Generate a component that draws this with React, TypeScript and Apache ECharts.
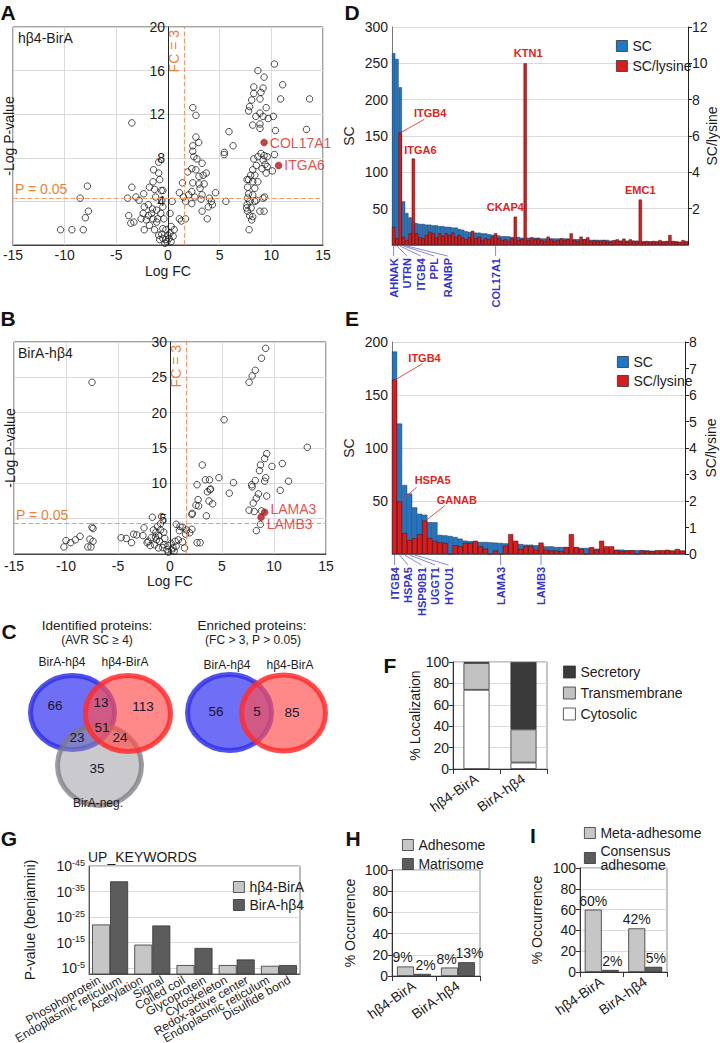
import React, { useEffect, useRef } from 'react';
import * as echarts from 'echarts';

const FONT = '"Liberation Sans", Arial, Helvetica, sans-serif';
const INK = '#1c1c1c';
const ORANGE = '#ea8234';
const ORANGE_LINE = '#f39a6a';
const HIT_RED = '#e2231a';
const DOT_RED = '#b0161a';
const BAR_BLUE = '#1f77c9';
const BAR_RED = '#d91c1c';
const LABEL_BLUE = '#3434cc';
const LIGHT_GRAY = '#c6c6c6';
const DARK_GRAY = '#5c5c5c';
const GRID = '#dadada';

// ---------- Panel A: volcano hβ4-BirA  [log FC, -log P]
const volcanoA: number[][] = [
  [-10.4, 1.4], [-9.3, 1.4], [-8.2, 1.4], [-8.5, 4.3], [-7.8, 5.4], [-7.7, 3.1], [-8.0, 2.5],
  [-3.5, 11.2], [-3.5, 5.3], [-3.9, 4.3], [-3.1, 4.4], [-2.8, 4.1], [-3.8, 2.7], [-3.6, 2.0], [-3.3, 2.1],
  [-2.35, 4.7], [-1.8, 5.3], [-1.3, 5.1], [-0.9, 7.6], [-0.9, 6.6], [-1.4, 6.9], [-0.8, 6.0], [-1.45, 5.8],
  [-0.65, 5.0], [-0.5, 5.0], [-0.6, 4.1], [-2.3, 3.5], [-1.9, 3.7], [-2.4, 2.9], [-2.6, 2.4], [-2.1, 2.3],
  [-1.6, 2.9], [-1.1, 3.2], [-0.7, 2.9], [-0.5, 3.5], [-0.4, 2.4], [-1.8, 1.8], [-1.3, 1.4], [-2.3, 1.4],
  [-0.9, 0.9], [-0.5, 0.6], [-0.2, 0.5], [0.2, 1.1], [0.5, 0.8], [0.3, 1.7], [-0.2, 1.4], [-0.8, 0.5],
  [-0.3, 0.15], [0.3, 0.3], [0.6, 1.4], [0.2, 2.9], [0.4, 4.0], [-1.1, 2.1], [-1.45, 2.4], [-1.9, 2.7],
  [-1.0, 2.4], [-0.5, 1.5], [-0.1, 0.3], [0.1, 0.6], [-0.6, 1.0], [-1.5, 3.3], [-1.2, 4.4], [0.0, 0.9],
  [1.1, 4.8], [1.4, 5.7], [1.3, 2.2], [1.1, 2.4], [1.7, 2.4], [1.5, 4.4], [1.7, 4.0], [1.9, 6.7],
  [2.4, 12.6], [2.7, 11.9], [2.7, 9.9], [2.97, 9.4], [2.4, 9.1], [2.4, 8.6], [2.5, 8.1], [2.8, 7.9],
  [3.3, 7.5], [2.3, 7.0], [2.7, 6.9], [3.0, 6.3], [3.4, 6.4], [3.7, 6.6], [2.4, 5.7], [3.0, 5.6],
  [3.5, 5.6], [3.1, 5.2], [2.3, 4.9], [2.0, 4.6], [2.6, 4.4], [3.2, 4.2], [3.3, 4.6], [4.0, 4.3],
  [4.2, 4.0], [4.6, 4.8], [3.9, 3.5], [3.3, 3.1], [4.3, 3.7], [3.8, 2.4], [2.3, 3.8],
  [5.45, 8.5], [5.45, 8.3], [5.9, 10.4], [6.3, 9.1], [5.6, 4.0],
  [10.3, 16.6], [8.7, 16.0], [11.1, 14.7], [9.3, 15.4], [8.3, 14.5], [9.2, 14.4], [8.3, 13.9], [9.0, 14.0],
  [8.1, 13.3], [8.9, 13.4], [9.5, 12.6], [10.9, 13.4], [13.7, 13.4], [7.9, 12.7], [7.8, 12.3], [8.5, 11.8],
  [8.9, 12.1], [9.2, 11.8], [9.7, 11.6], [10.2, 11.8], [8.2, 11.0], [8.9, 11.1], [8.9, 10.7], [10.4, 10.5],
  [13.4, 10.6], [10.3, 8.3], [8.3, 7.9], [8.7, 8.1], [9.0, 8.4], [9.3, 8.2], [9.6, 8.1], [9.2, 7.8],
  [9.4, 7.4], [9.6, 7.2], [9.5, 6.6], [9.1, 7.0], [10.1, 6.8], [8.55, 7.3], [8.2, 6.9], [8.0, 6.4],
  [8.4, 6.4], [7.8, 6.0], [7.65, 6.0], [8.2, 5.8], [8.7, 5.8], [7.7, 5.3], [8.4, 5.2], [7.8, 4.7],
  [8.2, 4.6], [7.7, 4.3], [7.9, 4.0], [8.55, 4.1], [9.35, 4.4], [9.2, 4.3], [7.65, 3.7], [8.05, 3.4],
  [7.7, 3.1], [7.9, 2.7], [8.2, 2.6], [8.1, 2.3], [8.9, 3.1], [9.3, 3.1], [7.85, 1.4], [7.6, 3.4], [8.4, 4.0],
];
const hitNamesA = ['COL17A1', 'ITGA6'];
const hitValuesA: number[][] = [[9.3, 9.4], [10.7, 7.3]];

// ---------- Panel B: volcano BirA-hβ4
const volcanoB: number[][] = [
  [-7.5, 24.3], [-10.2, 1.0], [-10.0, 1.9], [-9.55, 1.6], [-9.1, 2.0], [-8.65, 2.5], [-7.9, 1.0], [-7.6, 1.0],
  [-7.7, 2.1], [-7.4, 1.8], [-7.5, 3.8], [-7.4, 3.6], [-4.7, 2.3], [-4.2, 2.2], [-3.7, 1.6], [-3.5, 2.8],
  [-3.2, 2.7], [-2.6, 2.6], [-2.5, 3.7], [-1.7, 5.2], [-0.8, 5.3], [-2.1, 1.8], [-2.2, 1.6], [-1.8, 2.3],
  [-1.6, 3.4], [-1.35, 3.1], [-1.1, 2.6], [-0.9, 3.4], [-0.6, 3.1], [-1.3, 2.0], [-1.0, 1.8], [-1.5, 1.3],
  [-1.1, 0.85], [-0.6, 1.3], [-0.5, 2.2], [-0.3, 0.6], [-0.15, 0.25], [0.15, 0.5], [0.3, 0.85], [0.6, 1.1],
  [0.5, 1.8], [0.8, 2.0], [1.2, 1.7], [1.4, 0.85], [-0.9, 4.3], [-1.2, 3.9], [-0.7, 0.9], [-0.2, 1.2],
  [0.1, 1.5], [-1.9, 1.2], [-1.4, 2.4], [0.4, 0.4], [0.6, 4.2], [0.96, 3.9], [1.2, 3.8], [0.9, 3.3],
  [1.6, 3.4], [1.5, 2.8], [2.1, 3.5], [1.9, 3.0], [2.1, 5.6], [2.15, 5.75], [2.6, 9.8], [3.1, 12.6],
  [2.7, 7.7], [2.5, 6.9], [2.75, 6.8], [2.6, 1.6], [2.9, 1.6], [3.4, 10.5], [3.8, 10.5], [3.6, 8.8],
  [3.9, 9.2], [3.85, 9.1], [3.75, 7.5], [4.1, 7.1], [3.5, 5.4], [4.7, 10.8], [5.2, 19.0], [5.7, 8.6],
  [6.1, 10.1], [7.6, 24.3], [7.9, 25.2], [8.2, 26.0], [8.8, 27.7], [9.2, 29.1], [9.3, 14.2], [9.1, 13.5],
  [8.7, 12.6], [8.6, 11.8], [9.8, 12.4], [10.8, 12.8], [13.2, 15.1], [11.4, 10.3], [10.6, 9.0], [9.2, 10.8],
  [9.1, 10.3], [8.2, 10.4], [7.85, 9.8], [7.9, 9.5], [8.5, 8.5], [8.3, 7.9], [8.0, 7.2], [9.3, 8.2],
  [7.6, 6.2], [8.1, 6.0], [8.8, 6.1], [8.3, 3.3], [8.7, 4.2],
];
const hitNamesB = ['LAMA3', 'LAMB3'];
const hitValuesB: number[][] = [[9.1, 5.9], [8.75, 5.2]];

const FC_THRESHOLD = 1.585; // log2(3)
const P_THRESHOLD = 4.3;

// ---------- Panel D: spectral counts hβ4-BirA
const dSC = [
  264, 256, 217, 60, 44, 38, 32,
  30, 29, 29, 28, 28, 27,
  27, 26, 26, 25, 25, 24, 24,
  22, 21, 19, 18, 18, 17,
  17, 16, 16, 15, 14, 14,
  13, 12, 12, 12, 11, 11,
  11, 10, 10, 10, 10, 10, 10, 9, 9,
  9, 9, 9, 9, 9, 9, 9, 8, 8,
  8, 8, 8, 8, 7, 7, 7, 7,
  7, 7, 6, 6, 6, 6, 6, 6, 6, 6, 6, 6,
  5, 5, 5, 5, 5, 5, 5, 5, 5, 5, 5, 4, 4, 4,
];
const dLys = [
  1.0, 0.37, 6.2, 0.45, 0.27, 0.64, 4.76,
  0.64, 0.42, 0.37, 0.55, 0.73, 0.64,
  0.42, 0.64, 0.5, 0.64, 0.55, 0.68, 0.46,
  0.55, 0.42, 0.31, 0.42, 0.78, 0.37,
  0.46, 0.27, 0.37, 0.31, 0.46, 0.64,
  0.37, 0.27, 0.31, 0.22, 0.37, 1.56,
  0.27, 0.31, 10.0, 0.27, 0.42, 0.31, 0.37, 0.27, 0.22,
  0.46, 0.31, 0.22, 0.27, 0.37, 0.27, 0.31, 0.64, 0.27,
  0.22, 0.46, 0.31, 0.42, 0.22, 0.27, 0.22, 0.22,
  0.27, 0.18, 0.18, 0.27, 0.31, 0.22, 0.35, 0.18, 0.31, 0.22, 0.18, 2.5,
  0.18, 0.22, 0.18, 0.22, 0.18, 0.27, 0.18, 0.22, 0.55, 0.22, 0.18, 0.18, 0.27, 0.22,
];
const dCats = dSC.map((_, i) => 'D' + (i + 1));
const dAxisNames = ['AHNAK', 'UTRN', 'ITGB4', 'PPL', 'RANBP', 'COL17A1'];
const dAxisIdx = [0, 1, 2, 3, 4, 31];
const dHitNames = ['ITGB4', 'ITGA6', 'CKAP4', 'KTN1', 'EMC1'];
const dHitIdx = [2, 6, 37, 40, 75];
const dHitLayout = [
  { dx: 30, dy: -19, lx: -6, ly: 6 },
  { dx: 7, dy: -9 },
  { dx: -10, dy: -10 },
  { dx: 3, dy: -10 },
  { dx: 0, dy: -10 },
];

// ---------- Panel E: spectral counts BirA-hβ4
const eSC = [
  191, 123, 65, 57, 44, 38, 37, 30, 30,
  18, 17.6, 17, 16, 14.5, 12.6, 12, 12, 11.3, 11.3,
  11, 10.7, 10.4, 10, 10, 10, 9.4, 8.8, 8.8, 8.2,
  8.2, 7.2, 7.2, 6.6, 6.6, 6.6, 6.3, 6.3, 5.7, 5.7,
  5.7, 5, 5, 5, 4.1, 4.1, 4.1, 3.5, 3.5, 3.5,
  3.5, 3.5, 3.1, 3.1, 3.1, 3.1, 3.1, 3.1, 3.1,
];
const eLys = [
  6.58, 1.99, 0.79, 0.53, 0.6, 0.75, 1.26, 0.6, 0.5,
  0.44, 0.42, 0, 0.33, 0.29, 0.42, 0.42, 0.5, 0.29, 0.2,
  0, 0.13, 0, 0.31, 0.75, 0.5, 0.19, 0.29, 0.29, 0.16,
  0.43, 0.16, 0.13, 0.13, 0.1, 0.25, 0.75, 0.26, 0.19, 0,
  0.26, 0.14, 0.5, 0.29, 0.29, 0.14, 0.1, 0.13, 0.14, 0,
  0.14, 0.1, 0.1, 0.14, 0.14, 0.16, 0.13, 0.19, 0.13,
];
const eCats = eSC.map((_, i) => 'E' + (i + 1));
const eAxisNames = ['ITGB4', 'HSPA5', 'HSP90B1', 'UGGT1', 'HYOU1', 'LAMA3', 'LAMB3'];
const eAxisIdx = [0, 1, 2, 3, 4, 21, 29];
const eHitNames = ['ITGB4', 'HSPA5', 'GANAB'];
const eHitIdx = [0, 1, 6];
const eHitLayout = [
  { dx: 30, dy: -22, lx: -2, ly: 6 },
  { dx: 33, dy: -21, lx: -16, ly: 7 },
  { dx: 32, dy: -21, lx: -12, ly: 6 },
];

// ---------- Panel C: Venn counts
const vennIdentified = { blueOnly: 66, blueRed: 13, redOnly: 113, all: 51, blueGray: 23, redGray: 24, grayOnly: 35 };
const vennEnriched = { blueOnly: 56, both: 5, redOnly: 85 };

// ---------- Panel F
const fCategories = ['hβ4-BirA', 'BirA-hβ4'];
const fCytosolic = [74, 6];
const fTransmembrane = [25, 31];
const fSecretory = [1, 63];

// ---------- Panel G (-log10 P, benjamini)
const gKeywords = ['Phosphoprotein', 'Endoplasmic reticulum', 'Acetylation', 'Signal', 'Coiled coil',
  'Glycoprotein', 'Cytoskeleton', 'Redox-active center', 'Endoplasmic reticulum', 'Disulfide bond'];
const gPairs = ['p1', 'p2', 'p3', 'p4', 'p5'];
const gHb4BirA = [22.1, 14.2, 6.2, 6.2, 5.9];
const gBirAHb4 = [39, 21.7, 12.9, 8.4, 6.2];
const gTicks = [5, 15, 25, 35, 45];

// ---------- Panels H, I
const hiCategories = ['hβ4-BirA', 'BirA-hβ4'];
const hAdhesome = [9, 8];
const hMatrisome = [2, 13];
const iMeta = [60, 42];
const iConsensus = [2, 5];

const axisText = { color: INK, fontSize: 14, fontFamily: FONT };

function volcanoAxes(gridIndex: number, yMax: number, yInterval: number, yOffset: number, xLabelMargin: number, xNameGap: number) {
  const x = {
    gridIndex, type: 'value', min: -15, max: 15, interval: 5,
    axisLine: { show: true, onZero: false, lineStyle: { color: '#444' } },
    axisTick: { show: false },
    axisLabel: { ...axisText, margin: xLabelMargin },
    splitLine: { show: true, lineStyle: { color: GRID } },
    name: 'Log FC', nameLocation: 'middle', nameGap: xNameGap, nameMoveOverlap: false, nameTextStyle: axisText,
  };
  // the y axis is drawn through log FC = 0, i.e. the middle of the plot
  const y = {
    gridIndex, type: 'value', min: 0, max: yMax, interval: yInterval, position: 'left', offset: yOffset,
    axisLine: { show: true, onZero: false, lineStyle: { color: '#222' } },
    axisTick: { show: false },
    axisLabel: { ...axisText, margin: 3, showMinLabel: false },
    splitLine: { show: true, lineStyle: { color: GRID } },
    name: '-Log P-value', nameLocation: 'middle', nameGap: -yOffset - 3, nameRotate: 90, nameMoveOverlap: false,
    nameTextStyle: axisText,
  };
  return { x, y };
}

function volcanoSeries(xi: number, data: number[][], names: string[], vals: number[][], offsets: number[]) {
  return [
    {
      type: 'scatter', name: 'volcano' + xi, xAxisIndex: xi, yAxisIndex: xi, data,
      symbol: 'circle', symbolSize: 6.5,
      itemStyle: { color: 'rgba(255,255,255,0)', borderColor: '#222', borderWidth: 1 },
      markLine: {
        silent: true, symbol: ['none', 'none'], animation: false,
        lineStyle: { color: ORANGE_LINE, type: 'dashed', width: 1.2 },
        data: [
          { xAxis: FC_THRESHOLD, label: { formatter: 'FC = 3', position: 'insideEndTop', color: ORANGE, fontSize: 14, fontFamily: FONT, distance: 3 } },
          { yAxis: P_THRESHOLD, label: { formatter: 'P = 0.05', position: 'insideStartTop', color: ORANGE, fontSize: 14, fontFamily: FONT, distance: 2 } },
        ],
      },
    },
    {
      type: 'scatter', name: 'hits' + xi, xAxisIndex: xi, yAxisIndex: xi,
      data: names.map((n, i) => ({ name: n, value: vals[i], label: { offset: [0, offsets[i]] } })),
      symbol: 'circle', symbolSize: 7, z: 5,
      itemStyle: { color: DOT_RED, borderColor: DOT_RED, borderWidth: 0.5 },
      label: { show: true, position: 'right', formatter: '{b}', color: HIT_RED, fontSize: 14, fontFamily: FONT, distance: 2 },
    },
  ];
}

function countAxes(gridIndex: number, cats: string[], leftMax: number, rightMax: number, rightInterval: number, showRightZero: boolean, rightNameGap: number) {
  const x = {
    gridIndex, type: 'category', data: cats, position: 'bottom',
    axisLine: { show: true, lineStyle: { color: '#777' } },
    axisTick: { show: false }, axisLabel: { show: false },
  };
  const yl = {
    gridIndex, type: 'value', min: 0, max: leftMax, interval: 50, position: 'left',
    axisLine: { show: true, lineStyle: { color: '#777' } },
    axisTick: { show: false },
    axisLabel: { ...axisText, margin: 4, showMinLabel: false },
    splitLine: { show: true, lineStyle: { color: GRID } },
    name: 'SC', nameLocation: 'middle', nameGap: 36, nameRotate: 90, nameMoveOverlap: false, nameTextStyle: axisText,
  };
  const yr = {
    gridIndex, type: 'value', min: 0, max: rightMax, interval: rightInterval, position: 'right',
    axisLine: { show: true, lineStyle: { color: '#222' } },
    axisTick: { show: true, length: 4, lineStyle: { color: '#222' } },
    axisLabel: { ...axisText, margin: 4, showMinLabel: showRightZero },
    splitLine: { show: false },
    name: 'SC/lysine', nameLocation: 'middle', nameGap: rightNameGap, nameRotate: 90, nameMoveOverlap: false,
    nameTextStyle: axisText,
  };
  return [x, yl, yr];
}

function countSeries(xi: number, yl: number, yr: number, sc: number[], lys: number[]) {
  return [
    {
      type: 'bar', name: 'SC', xAxisIndex: xi, yAxisIndex: yl, data: sc,
      barCategoryGap: '0%', barGap: '-100%',
      itemStyle: { color: BAR_BLUE, borderColor: '#1d3148', borderWidth: 0.5 },
    },
    {
      type: 'bar', name: 'SC/lysine', xAxisIndex: xi, yAxisIndex: yr, data: lys,
      barCategoryGap: '0%', barGap: '-100%',
      itemStyle: { color: BAR_RED, borderColor: '#4a0c0c', borderWidth: 0.5 },
    },
  ];
}

function percentAxes(gridIndex: number, cats: string[], name: string, nameGap: number) {
  const x = {
    gridIndex, type: 'category', data: cats, position: 'bottom',
    axisLine: { show: true, lineStyle: { color: '#333' } },
    axisTick: { show: true, length: 5, lineStyle: { color: '#333' } },
    axisLabel: { ...axisText, rotate: 35, margin: 8, interval: 0 },
  };
  const y = {
    gridIndex, type: 'value', min: 0, max: 100, interval: 20,
    axisLine: { show: true, lineStyle: { color: '#333' } },
    axisTick: { show: true, length: 4, lineStyle: { color: '#333' } },
    axisLabel: { ...axisText, margin: 4 },
    splitLine: { show: true, lineStyle: { color: GRID } },
    name, nameLocation: 'middle', nameGap, nameRotate: 90, nameMoveOverlap: false, nameTextStyle: axisText,
  };
  return [x, y];
}

function buildOption() {
  const fixed = { outerBoundsMode: 'none', containLabel: false };
  const grids = [
    { ...fixed, left: 13, top: 27, width: 310, height: 218, show: true, borderColor: '#444' },   // A
    { ...fixed, left: 14, top: 342, width: 312, height: 212, show: true, borderColor: '#444' },  // B
    { ...fixed, left: 392, top: 27, width: 296, height: 218 },                                   // D
    { ...fixed, left: 392, top: 342, width: 293, height: 212 },                                  // E
    { ...fixed, left: 453, top: 662, width: 94, height: 107, show: true, borderColor: '#888' },  // F
    { ...fixed, left: 89, top: 866, width: 211, height: 108, show: true, borderColor: '#777' },  // G
    { ...fixed, left: 392, top: 870, width: 88, height: 106, show: true, borderColor: '#888' },  // H
    { ...fixed, left: 580, top: 868, width: 87, height: 104, show: true, borderColor: '#888' },  // I
  ];

  const aAx = volcanoAxes(0, 20, 4, -155, 3, 19);
  const bAx = volcanoAxes(1, 30, 5, -156, 5, 20);
  const [dX, dYL, dYR] = countAxes(2, dCats, 300, 12, 2, false, 17);
  const [eX, eYL, eYR] = countAxes(3, eCats, 200, 8, 1, true, 19);
  const [fX, fY] = percentAxes(4, fCategories, '% Localization', 31);
  const [hX, hY] = percentAxes(6, hiCategories, '% Occurrence', 35);
  const [iX, iY] = percentAxes(7, hiCategories, '% Occurrence', 36);

  const gXPairs = {
    gridIndex: 5, type: 'category', data: gPairs, position: 'bottom',
    axisLine: { show: true, lineStyle: { color: '#555' } }, axisTick: { show: false }, axisLabel: { show: false },
  };
  const gXLabels = {
    gridIndex: 5, type: 'category', data: gKeywords.map((_, i) => String(i)), position: 'bottom',
    axisLine: { show: false }, axisTick: { show: false },
    axisLabel: {
      color: INK, fontSize: 12, fontFamily: FONT, rotate: 30, margin: 5, interval: 0, overflow: 'none',
      formatter: (_v: string, i: number) => gKeywords[i],
    },
  };
  const gY = {
    gridIndex: 5, type: 'value', min: 2.7, max: 45,
    axisLine: { show: true, lineStyle: { color: '#555' } },
    axisTick: { show: false, customValues: gTicks },
    axisLabel: {
      customValues: gTicks, margin: 4,
      formatter: (v: number) => `{b|10}{s|-${v}}`,
      rich: {
        b: { fontSize: 14, fontFamily: FONT, color: INK, lineHeight: 16 },
        s: { fontSize: 9, fontFamily: FONT, color: INK, verticalAlign: 'top', lineHeight: 10 },
      },
    },
    splitLine: { show: true, lineStyle: { color: GRID } },
    name: 'P-value (benjamini)', nameLocation: 'middle', nameGap: 52, nameRotate: 90, nameMoveOverlap: false,
    nameTextStyle: axisText,
  };

  const xAxis = [aAx.x, bAx.x, dX, eX, fX, gXPairs, gXLabels, hX, iX];
  const yAxis = [aAx.y, bAx.y, dYL, dYR, eYL, eYR, fY, gY, hY, iY];

  const grayBar = (name: string, xi: number, yi: number, data: number[], color: string, width: number, labelDx: number | null) => ({
    type: 'bar', name, xAxisIndex: xi, yAxisIndex: yi, data, barWidth: width, barGap: '0%',
    itemStyle: { color, borderColor: '#333', borderWidth: 0.8 },
    label: labelDx !== null ? { show: true, position: 'top', distance: 2, offset: [labelDx, 0], formatter: '{c}%', color: INK, fontSize: 14, fontFamily: FONT } : undefined,
  });

  const series: any[] = [
    ...volcanoSeries(0, volcanoA, hitNamesA, hitValuesA, [0, 0]),
    ...volcanoSeries(1, volcanoB, hitNamesB, hitValuesB, [-3, 7]),
    ...countSeries(2, 2, 3, dSC, dLys),
    ...countSeries(3, 4, 5, eSC, eLys),
    { type: 'bar', name: 'Cytosolic', stack: 'f', xAxisIndex: 4, yAxisIndex: 6, data: fCytosolic, barWidth: 26, itemStyle: { color: '#ffffff', borderColor: '#333', borderWidth: 0.8 } },
    { type: 'bar', name: 'Transmembrane', stack: 'f', xAxisIndex: 4, yAxisIndex: 6, data: fTransmembrane, barWidth: 26, itemStyle: { color: '#c2c2c2', borderColor: '#333', borderWidth: 0.8 } },
    { type: 'bar', name: 'Secretory', stack: 'f', xAxisIndex: 4, yAxisIndex: 6, data: fSecretory, barWidth: 26, itemStyle: { color: '#3a3a3a', borderColor: '#333', borderWidth: 0.8 } },
    grayBar('hβ4-BirA', 5, 7, gHb4BirA, LIGHT_GRAY, 18, null),
    grayBar('BirA-hβ4', 5, 7, gBirAHb4, DARK_GRAY, 18, null),
    grayBar('Adhesome', 7, 8, hAdhesome, LIGHT_GRAY, 17, -3),
    grayBar('Matrisome', 7, 8, hMatrisome, DARK_GRAY, 17, 3),
    grayBar('Meta-adhesome', 8, 9, iMeta, LIGHT_GRAY, 17, 0),
    grayBar('Consensus adhesome', 8, 9, iConsensus, DARK_GRAY, 17, 2),
  ];

  const legendBase = {
    orient: 'vertical', icon: 'rect', itemWidth: 11, itemHeight: 11, selectedMode: false,
    textStyle: { fontSize: 14, color: INK, fontFamily: FONT },
    itemStyle: { borderColor: '#333', borderWidth: 0.8 },
  };
  const legend = [
    { ...legendBase, data: ['SC', 'SC/lysine'], left: 611, top: 34, itemGap: 6 },
    { ...legendBase, data: ['SC', 'SC/lysine'], left: 612, top: 350, itemGap: 5 },
    { ...legendBase, data: ['Secretory', 'Transmembrane', 'Cytosolic'], left: 558, top: 660, itemWidth: 12, itemHeight: 12, itemGap: 7 },
    { ...legendBase, data: ['hβ4-BirA', 'BirA-hβ4'], left: 228, top: 875, itemGap: 4 },
    { ...legendBase, data: ['Adhesome', 'Matrisome'], left: 397, top: 833, itemGap: 5 },
    {
      ...legendBase, data: ['Meta-adhesome', 'Consensus adhesome'], left: 579, top: 821, itemGap: 4,
      formatter: (n: string) => (n === 'Consensus adhesome' ? 'Consensus\nadhesome' : n),
    },
  ];

  return {
    animation: false,
    backgroundColor: '#ffffff',
    textStyle: { fontFamily: FONT },
    grid: grids,
    xAxis, yAxis, series, legend,
  };
}

function buildGraphics(chart: any) {
  const els: any[] = [];
  const text = (x: number, y: number, t: string, o: any = {}) => els.push({
    type: 'text', x, y, rotation: o.rotation ?? 0, silent: true, z: 100,
    style: {
      text: t, fill: o.fill ?? INK, fontSize: o.size ?? 14, fontWeight: o.weight ?? 'normal',
      fontFamily: FONT, align: o.align ?? 'center', verticalAlign: o.valign ?? 'middle',
    },
  });
  const line = (x1: number, y1: number, x2: number, y2: number, stroke: string, w = 1) => els.push({
    type: 'line', silent: true, z: 100, shape: { x1, y1, x2, y2 }, style: { stroke, lineWidth: w },
  });
  const ellipse = (cx: number, cy: number, rx: number, ry: number, fill: string, stroke: string, z: number) => els.push({
    type: 'ellipse', silent: true, z, shape: { cx, cy, rx, ry }, style: { fill, stroke, lineWidth: 5 },
  });

  // panel letters
  const letters: [string, number, number][] = [
    ['A', 8, 12], ['B', 8, 318], ['C', 9, 631], ['D', 352, 12], ['E', 352, 318],
    ['F', 390, 665], ['G', 9, 838], ['H', 353, 838], ['I', 533, 835],
  ];
  letters.forEach(([l, x, y]) => text(x, y, l, { size: 21, weight: 'bold', fill: '#111' }));

  text(18, 38, 'hβ4-BirA', { align: 'left' });
  text(18, 353, 'BirA-hβ4', { align: 'left' });

  // ---- Venn diagrams (panel C)
  const BLUE_F = 'rgba(70,70,242,0.78)', BLUE_S = 'rgba(50,50,232,0.85)';
  const RED_F = 'rgba(255,80,80,0.68)', RED_S = 'rgba(255,45,45,0.85)';
  const GRAY_F = 'rgba(150,150,158,0.5)', GRAY_S = 'rgba(120,120,125,0.72)';
  ellipse(72.5, 712.5, 42, 37, BLUE_F, BLUE_S, 10);
  ellipse(99.5, 765.5, 42, 40, GRAY_F, GRAY_S, 11);
  ellipse(128, 713.5, 42.5, 38, RED_F, RED_S, 12);
  ellipse(229.5, 712.5, 42, 38, BLUE_F, BLUE_S, 10);
  ellipse(283.5, 713, 42, 38, RED_F, RED_S, 12);

  text(97, 625, 'Identified proteins:', { size: 13.5 });
  text(97, 640, '(AVR SC ≥ 4)', { size: 12 });
  text(252, 625, 'Enriched proteins:', { size: 13.5 });
  text(253, 640, '(FC > 3, P > 0.05)', { size: 12 });
  text(62, 662, 'BirA-hβ4', { size: 12 });
  text(125, 662, 'hβ4-BirA', { size: 12 });
  text(98, 803, 'BirA-neg.', { size: 12 });
  text(227, 665, 'BirA-hβ4', { size: 12 });
  text(290, 665, 'hβ4-BirA', { size: 12 });
  const vi = vennIdentified, ve = vennEnriched;
  const num = (x: number, y: number, n: number) => text(x, y, String(n), { size: 13.5, fill: '#151530' });
  num(55, 705, vi.blueOnly); num(101, 702, vi.blueRed); num(143, 706, vi.redOnly);
  num(102, 727, vi.all); num(77, 737, vi.blueGray); num(120, 737, vi.redGray); num(97, 768, vi.grayOnly);
  num(216, 711, ve.blueOnly); num(257, 711, ve.both); num(292, 712, ve.redOnly);

  // ---- gene labels under D / E, and hit annotations
  const geneLabels = (seriesIndex: number, names: string[], idx: number[]) => {
    let prev = -1e9;
    names.forEach((n, k) => {
      const [bx, by] = chart.convertToPixel({ seriesIndex }, [idx[k], 0]);
      const lx = Math.max(bx, prev + 13.5);
      prev = lx;
      line(bx, by + 1, lx, by + 11, '#6a6ad0', 0.8);
      text(lx, by + 13, n, { rotation: Math.PI / 2, align: 'right', size: 11, weight: 'bold', fill: LABEL_BLUE });
    });
  };
  const hits = (seriesIndex: number, values: number[], names: string[], idx: number[], layout: any[]) => {
    names.forEach((n, k) => {
      const [bx, by] = chart.convertToPixel({ seriesIndex }, [idx[k], values[idx[k]]]);
      const L = layout[k];
      const tx = bx + L.dx, ty = by + L.dy;
      if (L.lx !== undefined) line(bx + 1, by, tx + L.lx, ty + L.ly, '#e03a3a', 0.9);
      text(tx, ty, n, { size: 11, weight: 'bold', fill: HIT_RED });
    });
  };
  geneLabels(5, dAxisNames, dAxisIdx);
  geneLabels(7, eAxisNames, eAxisIdx);
  hits(5, dLys, dHitNames, dHitIdx, dHitLayout);
  hits(7, eLys, eHitNames, eHitIdx, eHitLayout);

  // panel G title
  text(88, 857, 'UP_KEYWORDS', { align: 'left' });

  return els;
}

export default function App() {
  const ref = useRef<HTMLDivElement>(null);
  useEffect(() => {
    if (!ref.current) return;
    const chart = echarts.init(ref.current, null, { renderer: 'svg', width: 720, height: 1043 });
    chart.setOption(buildOption() as any);
    chart.setOption({ graphic: buildGraphics(chart) } as any);
    return () => chart.dispose();
  }, []);
  return (
    <div
      ref={ref}
      style={{ position: 'absolute', left: 0, top: 0, width: 720, height: 1043, background: '#fff' }}
    />
  );
}
